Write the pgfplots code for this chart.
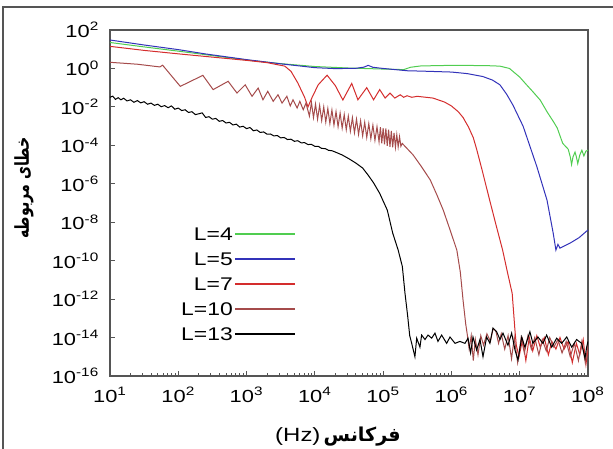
\documentclass[border=0pt]{standalone}
\usepackage{pgfplots}
\pgfplotsset{compat=1.18}
\usepackage{fontspec}
\setmainfont{Liberation Sans}[FakeStretch=1.25]
\newfontfamily\arabicfont[Script=Arabic]{DejaVu Sans}
\newfontfamily\arabicnarrow[Script=Arabic, FakeStretch=0.74]{DejaVu Sans}
\TeXXeTstate=1
\definecolor{cLfour}{RGB}{80,205,80}
\definecolor{cLfive}{RGB}{50,50,185}
\definecolor{cLseven}{RGB}{212,45,45}
\definecolor{cLten}{RGB}{165,75,75}
\definecolor{axgray}{RGB}{85,85,85}
\begin{document}
\begin{tikzpicture}[x=1pt,y=1pt]
\useasboundingbox (-66,-43.2) rectangle (301.8,225.6);
\draw[line width=1pt, axgray] (-64.2,-50) -- (-64.2,221.4) -- (310,221.4);
\begin{axis}[
  at={(0,0)}, anchor=south west,
  scale only axis, width=286.8pt, height=207.6pt,
  xmode=log, ymode=log,
  xmin=1e1, xmax=1e8, ymin=1e-16, ymax=1e2,
  tick pos=left, tick align=inside,
  axis line style={axgray, line width=0.8pt},
  tick style={axgray, line width=0.6pt},
  major tick length=3pt, minor tick length=1.8pt,
  xtick={1e1,1e2,1e3,1e4,1e5,1e6,1e7,1e8},
  xticklabels={10\textsuperscript{1},10\textsuperscript{2},10\textsuperscript{3},10\textsuperscript{4},10\textsuperscript{5},10\textsuperscript{6},10\textsuperscript{7},10\textsuperscript{8}},
  minor xtick={20,30,40,50,60,70,80,90,200,300,400,500,600,700,800,900,2000,3000,4000,5000,6000,7000,8000,9000,2e4,3e4,4e4,5e4,6e4,7e4,8e4,9e4,2e5,3e5,4e5,5e5,6e5,7e5,8e5,9e5,2e6,3e6,4e6,5e6,6e6,7e6,8e6,9e6,2e7,3e7,4e7,5e7,6e7,7e7,8e7,9e7},
  ytick={1e-16,1e-14,1e-12,1e-10,1e-8,1e-6,1e-4,1e-2,1,1e2},
  yticklabels={10\textsuperscript{-16},10\textsuperscript{-14},10\textsuperscript{-12},10\textsuperscript{-10},10\textsuperscript{-8},10\textsuperscript{-6},10\textsuperscript{-4},10\textsuperscript{-2},10\textsuperscript{0},10\textsuperscript{2}},
  yminorticks=false,
  every tick label/.append style={font=\fontsize{10.5}{12}\selectfont},
  yticklabel style={xshift=-3pt},
  xticklabel style={yshift=-3.2pt},
  xlabel={(Hz)\,{\arabicfont\bfseries\beginR فرکانس\endR}},
  xlabel style={at={([xshift=-6.6pt,yshift=-36.6pt]rel axis cs:0.5,0)}, anchor=center, font=\fontsize{11.5}{13}\selectfont},
  ylabel={\arabicnarrow\bfseries\beginR خطای مربوطه\endR},
  ylabel style={at={([xshift=-51.6pt]rel axis cs:0,0.543)}, anchor=center, font=\fontsize{11.5}{13}\selectfont},
  legend style={at={(0.40,0.445)}, anchor=north east, draw=none, fill=none,
    font=\fontsize{11}{13}\selectfont, legend cell align=right, row sep=5pt,
    nodes={inner sep=1pt, text height=8pt, text depth=0pt}},
  legend plot pos=right,
  legend image code/.code={\draw[#1,line width=0.8pt] (3pt,0pt) -- (39pt,0pt);},
  every axis plot/.append style={line width=0.6pt},
]
% L=4
\addplot[cLfour, mark=none] coordinates {(10,22.4)(31.6,13.2)(100,7.94)(316,4.68)(1000,2.75)(3162,1.78)(1e4,1.26)(3.16e4,1.05)(1e5,0.93)(2e5,0.87)(2.51e5,1.15)(3.55e5,1.35)(1e6,1.45)(3.16e6,1.41)(5.13e6,1.32)(7.08e6,1.0)(1e7,0.355)(1.26e7,0.141)(1.55e7,0.063)(2e7,0.0224)(2.51e7,5.6e-3)(3.16e7,1.58e-3)(3.55e7,7.9e-4)(3.98e7,2.5e-4)(4.27e7,1.26e-4)(4.68e7,8.9e-5)(5.13e7,6.3e-5)(5.5e7,2.5e-5)(5.75e7,1e-5)(6.03e7,2.5e-5)(6.46e7,4.47e-5)(6.76e7,2.5e-5)(7.08e7,1.12e-5)(7.59e7,3.16e-5)(8.13e7,5.6e-5)(8.71e7,2.82e-5)(9.33e7,5.0e-5)(1e8,5.6e-5)};
\addlegendentry{L=4}
% L=5
\addplot[cLfive, mark=none] coordinates {(10,30.2)(31.6,16.6)(100,9.55)(245,5.75)(1000,2.88)(3162,1.74)(1e4,1.1)(2e4,0.98)(3.98e4,1.02)(5.25e4,1.17)(6.03e4,1.45)(7.08e4,1.15)(1e5,1.0)(2.24e5,0.76)(3.98e5,0.72)(1e6,0.65)(1.7e6,0.54)(2.88e6,0.38)(3.98e6,0.25)(5.13e6,0.141)(6.46e6,0.0447)(7.94e6,0.0126)(1.12e7,1e-3)(1.78e7,7.94e-6)(2.51e7,1.41e-7)(3.09e7,2.75e-9)(3.39e7,3.55e-10)(3.63e7,7.08e-10)(3.89e7,4.47e-10)(5.5e7,8.3e-10)(7.41e7,1.58e-9)(1e8,3.98e-9)};
\addlegendentry{L=5}
% L=7
\addplot[cLseven, mark=none] coordinates {(10,14.1)(31.6,8.7)(100,5.75)(316,3.89)(1000,2.63)(2000,2.0)(3630,1.32)(4470,0.71)(5620,0.178)(7080,0.0316)(7940,0.01)(9120,0.0316)(1.12e4,0.141)(1.51e4,0.447)(2e4,0.126)(2.57e4,0.0229)(3.47e4,0.166)(4.27e4,0.0234)(5.75e4,0.1)(7.24e4,0.0234)(8.91e4,0.0794)(1.07e5,0.0288)(1.26e5,0.0525)(1.48e5,0.0288)(1.78e5,0.0427)(2e5,0.0316)(2.24e5,0.038)(2.63e5,0.0316)(3.16e5,0.0355)(5.37e5,0.0288)(7.94e5,0.0178)(1e6,0.0112)(1.26e6,5.6e-3)(1.48e6,2.82e-3)(1.78e6,8.9e-4)(2.09e6,2.5e-4)(2.34e6,6.3e-5)(2.82e6,5.0e-6)(3.63e6,1.41e-7)(4.47e6,7.9e-9)(5.62e6,3.55e-10)(6.61e6,2.5e-11)(7.76e6,2.0e-12)(8.51e6,2.5e-14)(8.91e6,4.0e-15)(9.77e6,1.0e-15)(1.10e7,7.9e-15)(1.23e7,6.3e-16)(1.38e7,1.0e-14)(1.55e7,2.0e-15)(1.78e7,1.26e-14)(2.0e7,3.16e-15)(2.29e7,1.0e-14)(2.63e7,1.26e-15)(2.95e7,6.3e-15)(3.39e7,2.5e-15)(3.89e7,1.0e-14)(4.47e7,2.5e-15)(5.13e7,6.3e-15)(5.89e7,5.0e-16)(6.76e7,5.0e-15)(7.59e7,1.26e-15)(8.51e7,7.9e-15)(9.33e7,4.0e-16)(1e8,2.5e-15)};
\addlegendentry{L=7}
% L=10
\addplot[cLten, mark=none] coordinates {(10,2.09)(25.1,1.66)(53.7,1.2)(58.9,1.48)(107,0.117)(229,0.437)(324,0.0794)(537,0.214)(724,0.0525)(955,0.141)(1202,0.0355)(1479,0.0955)(1738,0.0234)(2042,0.0646)(2455,0.0195)(2884,0.0427)(3311,0.0158)(3890,0.0355)(4365,0.0112)(4786,0.0234)(5495,8.7e-3)(6026,0.0195)(6761,7.1e-3)(7413,0.0158)(8318,3.31e-3)(8913,0.017)(9550,2.75e-3)(1.023e4,0.0141)(1.096e4,2.29e-3)(1.175e4,0.012)(1.259e4,1.95e-3)(1.349e4,0.01)(1.445e4,1.62e-3)(1.549e4,8.3e-3)(1.66e4,1.35e-3)(1.778e4,6.9e-3)(1.905e4,1.12e-3)(2.042e4,5.75e-3)(2.188e4,9.3e-4)(2.344e4,4.79e-3)(2.512e4,7.8e-4)(2.692e4,3.98e-3)(2.884e4,6.5e-4)(3.09e4,3.31e-3)(3.311e4,5.4e-4)(3.548e4,2.75e-3)(3.802e4,4.5e-4)(4.074e4,2.29e-3)(4.365e4,3.7e-4)(4.677e4,1.9e-3)(5.012e4,3.1e-4)(5.37e4,1.58e-3)(5.754e4,2.57e-4)(6.166e4,1.35e-3)(6.607e4,2.19e-4)(7.079e4,1.12e-3)(7.586e4,1.82e-4)(8.128e4,9.3e-4)(8.71e4,1.51e-4)(9.12e4,8.9e-4)(9.55e4,1.26e-4)(1e5,7.9e-4)(1.047e5,1.12e-4)(1.096e5,7.6e-4)(1.148e5,9.5e-5)(1.202e5,6.6e-4)(1.259e5,8.3e-5)(1.318e5,5.6e-4)(1.38e5,7.9e-5)(1.445e5,4.47e-4)(1.514e5,7.9e-5)(1.585e5,3.55e-4)(1.66e5,8.3e-5)(1.738e5,2.82e-4)(1.82e5,8.9e-5)(1.905e5,1.26e-4)(2.75e5,3.16e-5)(3.63e5,7.9e-6)(4.9e5,1.58e-6)(6.17e5,2.5e-7)(7.59e5,4.27e-8)(9.55e5,3.98e-9)(1.2e6,3.55e-10)(1.35e6,2.5e-11)(1.48e6,8.9e-13)(1.62e6,5.0e-14)(1.70e6,1.58e-14)(1.82e6,2.5e-15)(1.95e6,1.26e-14)(2.09e6,6.3e-16)(2.24e6,7.9e-15)(2.45e6,1.26e-15)(2.69e6,1.26e-14)(2.95e6,4.0e-15)(3.31e6,1.58e-14)(3.72e6,6.3e-15)(4.07e6,2.8e-14)(4.47e6,2.24e-14)(4.90e6,5.0e-15)(5.37e6,1.58e-14)(6.03e6,2.5e-15)(6.76e6,1.26e-14)(7.59e6,7.9e-16)(8.32e6,1.0e-14)(9.33e6,5.0e-16)(1.05e7,1.0e-14)(1.17e7,1.58e-15)(1.32e7,1.26e-14)(1.48e7,2.5e-15)(1.66e7,1.0e-14)(1.91e7,1.26e-15)(2.14e7,7.9e-15)(2.45e7,2.0e-15)(2.75e7,1.0e-14)(3.16e7,3.16e-15)(3.63e7,7.9e-15)(4.17e7,1.58e-15)(4.79e7,6.3e-15)(5.50e7,1.0e-15)(6.31e7,5.0e-15)(7.24e7,6.3e-16)(8.13e7,6.3e-15)(9.12e7,5.0e-16)(1e8,4.0e-15)};
\addlegendentry{L=10}
% L=13
\addplot[black, mark=none] coordinates {(10,3.16e-2)(10.96,3.63e-2)(12.02,2.45e-2)(13.18,3.02e-2)(14.45,2.34e-2)(15.85,2.82e-2)(17.78,2.04e-2)(19.95,2.34e-2)(22.39,1.74e-2)(25.12,2.14e-2)(28.18,1.62e-2)(31.62,1.86e-2)(35.48,1.38e-2)(39.81,1.58e-2)(44.67,1.2e-2)(50.12,1.38e-2)(56.23,1.02e-2)(63.1,1.17e-2)(70.79,9.1e-3)(79.43,1.12e-2)(89.13,7.6e-3)(100,8.7e-3)(112.2,6.46e-3)(125.9,7.08e-3)(141.3,5.13e-3)(158.5,5.62e-3)(177.8,3.98e-3)(199.5,4.37e-3)(223.9,4.9e-3)(251.2,2.82e-3)(281.8,3.09e-3)(316.2,2.29e-3)(354.8,2.51e-3)(398.1,1.78e-3)(446.7,1.95e-3)(501.2,1.45e-3)(562.3,1.58e-3)(631,1.15e-3)(707.9,1.26e-3)(794.3,8.9e-4)(891.3,9.8e-4)(1000,7.4e-4)(1122,8.5e-4)(1259,5.75e-4)(1413,6.3e-4)(1585,4.68e-4)(1778,5.0e-4)(1995,3.8e-4)(2239,3.89e-4)(2512,3.09e-4)(2818,3.24e-4)(3162,2.45e-4)(3548,2.57e-4)(3981,2.0e-4)(4467,2.09e-4)(5012,1.62e-4)(5623,1.74e-4)(6310,1.35e-4)(7079,1.38e-4)(7943,1.1e-4)(8913,1.12e-4)(1e4,8.9e-5)(11220,8.9e-5)(12590,6.9e-5)(14130,6.8e-5)(15850,5.5e-5)(17780,5.25e-5)(19950,4.47e-5)(2.51e4,3.16e-5)(3.16e4,2.0e-5)(3.98e4,1.2e-5)(5.01e4,6.6e-6)(6.03e4,2.82e-6)(7.24e4,1.12e-6)(8.91e4,3.16e-7)(1.15e5,4.27e-8)(1.38e5,2.75e-9)(1.66e5,3.55e-10)(1.91e5,5.0e-11)(2.09e5,2.0e-12)(2.29e5,1.26e-13)(2.45e5,1.26e-14)(2.62e5,5.0e-15)(2.92e5,1.0e-15)(3.10e5,9.3e-15)(3.46e5,3.16e-15)(3.66e5,1.35e-14)(4.10e5,7.9e-15)(4.54e5,1.35e-14)(5.14e5,9.3e-15)(5.74e5,1.7e-14)(6.35e5,6.3e-15)(7.19e5,1.35e-14)(8.51e5,5.0e-15)(9.53e5,1.07e-14)(1.13e6,5.0e-15)(1.33e6,6.3e-15)(1.58e6,5.0e-15)(1.75e6,9.3e-15)(1.91e6,1.6e-15)(2.07e6,1.07e-14)(2.34e6,2.24e-15)(2.62e6,7.9e-15)(2.90e6,1.0e-15)(3.28e6,1.07e-14)(3.66e6,5.0e-15)(4.06e6,3.16e-14)(4.60e6,2.0e-14)(5.14e6,7.9e-15)(5.69e6,1.7e-14)(6.73e6,4.0e-15)(7.62e6,1.7e-14)(8.53e6,2.24e-15)(9.44e6,6.8e-16)(1.07e7,1.07e-14)(1.19e7,3.16e-15)(1.41e7,2.0e-14)(1.56e7,5.0e-15)(1.85e7,1.07e-14)(2.19e7,5.0e-15)(2.48e7,1.35e-14)(2.94e7,3.16e-15)(3.48e7,9.3e-15)(4.11e7,5.0e-15)(4.88e7,1.07e-14)(5.77e7,3.16e-15)(6.82e7,7.9e-15)(8.07e7,5.0e-15)(9.04e7,8.5e-16)(9.55e7,3.16e-15)(1e8,6.3e-15)};
\addlegendentry{L=13}
\end{axis}
\end{tikzpicture}
\end{document}
